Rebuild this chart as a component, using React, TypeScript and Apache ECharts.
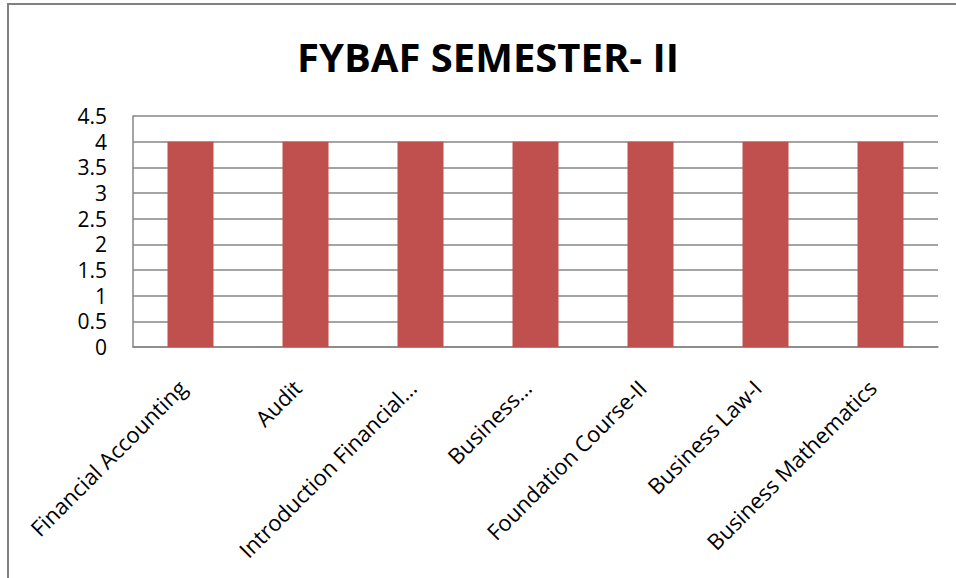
import React, { useEffect, useRef } from "react";
import * as echarts from "echarts";

const categories = [
  "Financial Accounting",
  "Audit",
  "Introduction Financial…",
  "Business…",
  "Foundation Course-II",
  "Business Law-I",
  "Business Mathematics",
];
const values = [4, 4, 4, 4, 4, 4, 4];
const titleText = "FYBAF SEMESTER- II";

export default function App() {
  const ref = useRef<HTMLDivElement>(null);
  useEffect(() => {
    document.body.style.margin = "0";
    const chart = echarts.init(ref.current!, null, { renderer: "svg" });
    chart.setOption({
      animation: false,
      backgroundColor: "#ffffff",
      title: {
        text: titleText,
        left: 292,
        top: 31,
        textStyle: {
          fontFamily: "Open Sans",
          fontWeight: "bold",
          fontSize: 40,
          color: "#000000",
        },
      },
      graphic: [
        {
          type: "line",
          shape: { x1: 7, y1: 4, x2: 956, y2: 4 },
          style: { stroke: "#808080", lineWidth: 2 },
        },
        {
          type: "line",
          shape: { x1: 8, y1: 3, x2: 8, y2: 578 },
          style: { stroke: "#808080", lineWidth: 2 },
        },
      ],
      grid: { left: 133, top: 116, width: 805, height: 231, containLabel: false },
      xAxis: {
        type: "category",
        data: categories,
        axisLine: { show: true, lineStyle: { color: "#868686", width: 1.5 } },
        axisTick: { show: false },
        axisLabel: {
          rotate: 45,
          interval: 0,
          margin: 28,
          padding: [0, 12, 0, 0],
          fontFamily: "Open Sans",
          fontSize: 22,
          color: "#000000",
        },
      },
      yAxis: {
        type: "value",
        min: 0,
        max: 4.5,
        interval: 0.5,
        axisLine: { show: true, lineStyle: { color: "#868686", width: 1.5 } },
        axisTick: { show: false },
        splitLine: { show: true, lineStyle: { color: "#868686", width: 1.5 } },
        axisLabel: {
          margin: 26,
          fontFamily: "Open Sans",
          fontSize: 21,
          lineHeight: 22,
          color: "#000000",
        },
      },
      series: [
        {
          type: "bar",
          data: values,
          barWidth: "40%",
          itemStyle: { color: "#C0504D" },
        },
      ],
    });
    return () => chart.dispose();
  }, []);
  return (
    <div
      ref={ref}
      style={{ position: "absolute", left: 0, top: 0, width: 956, height: 578 }}
    />
  );
}
